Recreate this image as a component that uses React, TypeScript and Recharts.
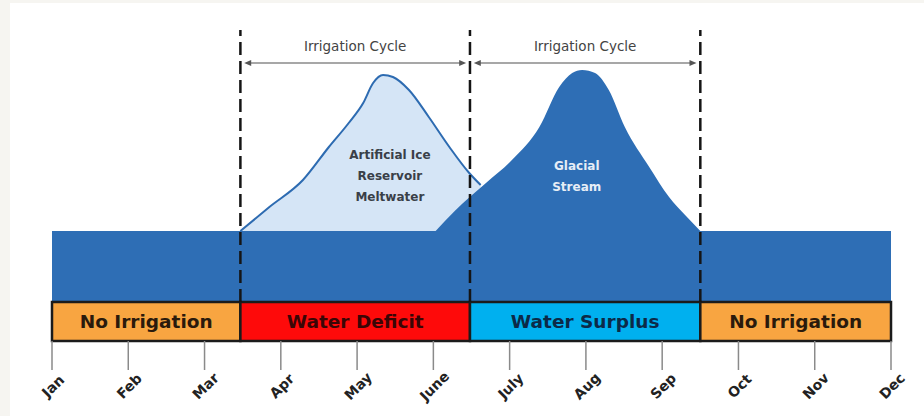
import React from "react";
import {
  ComposedChart,
  Area,
  XAxis,
  YAxis,
  ReferenceArea,
  ReferenceLine,
  ReferenceDot,
} from "recharts";

const FONT = "'DejaVu Sans', sans-serif";
const BLUE = "#2e6eb5";
const ICE = "#d5e5f6";

const months = ["Jan", "Feb", "Mar", "Apr", "May", "June", "July", "Aug", "Sep", "Oct", "Nov", "Dec"];
const monthTicks = months.map((_, i) => i);

// year-round base flow (relative units)
const baseX = [0, 11];
const baseY = [71, 71];

// artificial ice reservoir meltwater on top of the base flow
const iceX = [2.47, 2.85, 3.29, 3.63, 3.89, 4.08, 4.21, 4.34, 4.47, 4.68, 4.94, 5.21, 5.47, 5.62];
const iceY = [71, 95, 122, 155, 179, 199, 219, 227, 225, 212, 185, 155, 129, 117];

// glacial stream
const glacialX = [5.03, 5.28, 5.69, 6.03, 6.39, 6.65, 6.82, 6.95, 7.12, 7.3, 7.51, 7.83, 8.09, 8.3, 8.5];
const glacialY = [71, 91, 119, 142, 175, 215, 229, 232, 229, 212, 175, 135, 105, 87, 71];

const phaseEdges = [0, 2.47, 5.48, 8.5, 11];
const phaseNames = ["No Irrigation", "Water Deficit", "Water Surplus", "No Irrigation"];
const phaseFills = ["#f8a541", "#fe0a0a", "#00b0ef", "#f8a541"];
const phaseText = ["#2a1a0c", "#3a0606", "#0c2a48", "#2a1a0c"];

const cycleEdges = [2.47, 5.48, 8.5];

const toPoints = (xs: number[], ys: number[]) => xs.map((x, i) => ({ x, y: ys[i] }));
const baseData = toPoints(baseX, baseY);
const iceData = toPoints(iceX, iceY);
const glacialData = toPoints(glacialX, glacialY);

function MonthTick(props: any) {
  const { x, y, payload } = props;
  const px = x + 1;
  const py = y + 14;
  return (
    <text
      x={px}
      y={py}
      textAnchor="middle"
      dominantBaseline="central"
      transform={`rotate(-45, ${px}, ${py})`}
      fontFamily={FONT}
      fontWeight={700}
      fontSize={14}
      fill="#222"
    >
      {months[payload.value]}
    </text>
  );
}

function ArrowLine(props: any) {
  const { x1, y1, x2, y2 } = props;
  return (
    <g>
      <line x1={x1 + 4} y1={y1} x2={x2 - 4} y2={y2} stroke="#8a8a8a" strokeWidth={1.5} />
      <polygon points={`${x1},${y1} ${x1 + 7},${y1 - 3} ${x1 + 7},${y1 + 3}`} fill="#555" />
      <polygon points={`${x2},${y2} ${x2 - 7},${y2 - 3} ${x2 - 7},${y2 + 3}`} fill="#555" />
    </g>
  );
}

function TextBlock(props: any) {
  const { cx, cy, lines, fill } = props;
  return (
    <text x={cx} y={cy} textAnchor="middle" fontFamily={FONT} fontWeight={700} fontSize={12} fill={fill}>
      {lines.map((l: string, i: number) => (
        <tspan key={i} x={cx} dy={i === 0 ? 0 : 21}>
          {l}
        </tspan>
      ))}
    </text>
  );
}

export default function App() {
  return (
    <div style={{ position: "absolute", left: 0, top: 0, width: 924, height: 416, background: "#f6f5f1" }}>
      <div style={{ position: "absolute", left: 10, top: 3, right: 0, bottom: 0, background: "#fff" }} />
      <div style={{ position: "absolute", left: 0, top: 0 }}>
        <ComposedChart width={924} height={416} margin={{ top: 30, right: 33, bottom: 0, left: 52 }}>
          <XAxis
            type="number"
            dataKey="x"
            domain={[0, 11]}
            ticks={monthTicks}
            interval={0}
            allowDataOverflow
            axisLine={false}
            tickSize={29}
            tickLine={{ stroke: "#8a8a8a", strokeWidth: 1.5 }}
            height={75}
            tick={<MonthTick />}
          />
          <YAxis hide type="number" domain={[-39, 272]} allowDataOverflow />
          <Area
            data={baseData}
            dataKey="y"
            type="linear"
            baseValue={0}
            fill={BLUE}
            fillOpacity={1}
            stroke="none"
            dot={false}
            activeDot={false}
            isAnimationActive={false}
          />
          <Area
            data={iceData}
            dataKey="y"
            type="monotone"
            baseValue={71}
            fill={ICE}
            fillOpacity={1}
            stroke="#2d6bb1"
            strokeWidth={2}
            dot={false}
            activeDot={false}
            isAnimationActive={false}
          />
          <Area
            data={glacialData}
            dataKey="y"
            type="monotone"
            baseValue={71}
            fill={BLUE}
            fillOpacity={1}
            stroke="none"
            dot={false}
            activeDot={false}
            isAnimationActive={false}
          />
          {cycleEdges.map((x) => (
            <ReferenceLine
              key={`d${x}`}
              segment={[
                { x, y: 0 },
                { x, y: 272 },
              ]}
              stroke="#151515"
              strokeWidth={2.5}
              strokeDasharray="13 6"
            />
          ))}
          {cycleEdges.slice(0, -1).map((x, i) => (
            <ReferenceLine
              key={`a${x}`}
              segment={[
                { x: x + 0.05, y: 239 },
                { x: cycleEdges[i + 1] - 0.05, y: 239 },
              ]}
              shape={(p: any) => <ArrowLine {...p} />}
              label={{
                value: "Irrigation Cycle",
                position: "top",
                offset: 12,
                fill: "#444",
                fontSize: 13.5,
                fontFamily: FONT,
              }}
            />
          ))}
          {phaseNames.map((name, i) => (
            <ReferenceArea
              key={`p${i}`}
              x1={phaseEdges[i]}
              x2={phaseEdges[i + 1]}
              y1={-39}
              y2={0}
              fill={phaseFills[i]}
              fillOpacity={1}
              stroke="#1b1b1b"
              strokeWidth={2.5}
              label={{
                value: name,
                position: "center",
                fill: phaseText[i],
                fontSize: 18.5,
                fontWeight: 700,
                fontFamily: FONT,
              }}
            />
          ))}
          <ReferenceDot
            x={4.43}
            y={143}
            r={0}
            shape={(p: any) => <TextBlock {...p} lines={["Artificial Ice", "Reservoir", "Meltwater"]} fill="#3a3f48" />}
          />
          <ReferenceDot
            x={6.88}
            y={132}
            r={0}
            shape={(p: any) => <TextBlock {...p} lines={["Glacial", "Stream"]} fill="#e6edf6" />}
          />
        </ComposedChart>
      </div>
    </div>
  );
}
